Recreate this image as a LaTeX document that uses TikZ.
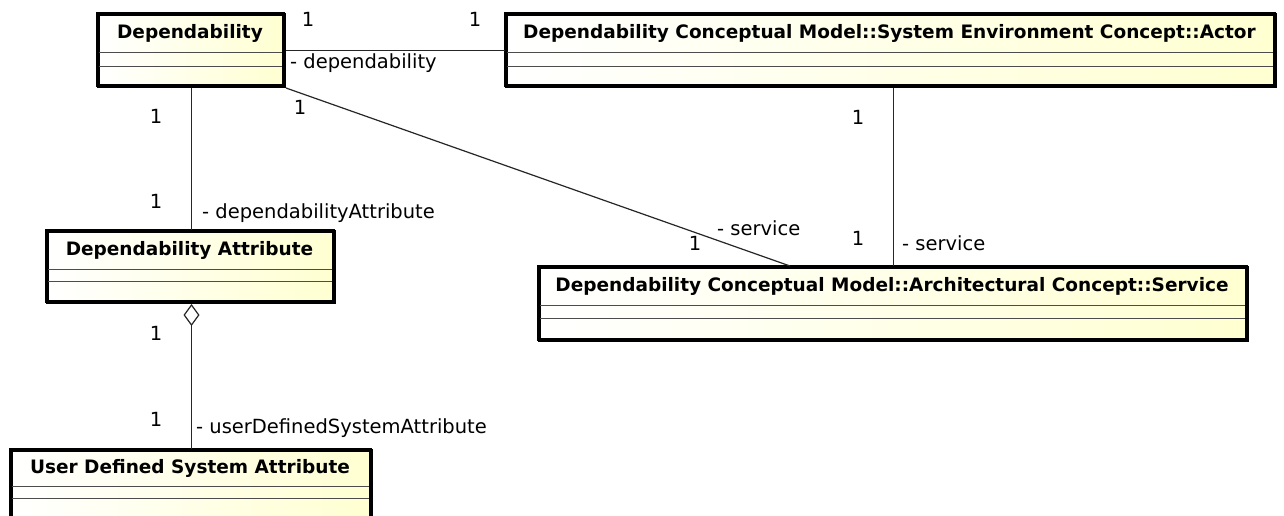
\documentclass[tikz,border=0pt]{standalone}
\usepackage{fontspec}
\setmainfont{DejaVu Sans}
\usetikzlibrary{arrows.meta,calc}
\tikzset{
  classbox/.style={draw=black, line width=3pt, inner sep=0pt, left color=white, right color=yellow!18, anchor=north west},
  divider/.style={draw=black!70, line width=1pt},
  classtitle/.style={font=\fontsize{18.5}{20}\selectfont\bfseries, inner sep=0pt},
  mult/.style={font=\fontsize{19.5}{21}\selectfont, inner sep=0pt},
  role/.style={font=\fontsize{19.5}{21}\selectfont, inner sep=0pt, anchor=west},
  assoc/.style={draw=black!85, line width=1.2pt}
}
\newcommand{\umlclass}[8]{%
  \node[classbox, minimum width={#4-#2}, minimum height={#5-#3}] (#1) at (#2,#3) {};
  \draw[divider] (#2,#6) -- (#4,#6);
  \draw[divider] (#2,#7) -- (#4,#7);
  \draw[line width=3pt] (#2,#3) rectangle (#4,#5);
  \node[classtitle] (#1-t) at ({(#2+#4)/2},{(#3+#6)/2+1}) {#8};
}
\begin{document}
\begin{tikzpicture}[x=1pt,y=-1pt]
\clip (0,0) rectangle (1284,515);
\fill[white] (0,0) rectangle (1284,515);
\umlclass{dep}{97}{13}{283}{85}{52}{66}{Dependability}
\umlclass{actor}{505}{13}{1274}{85}{52}{66}{Dependability Conceptual Model::System Environment Concept::Actor}
\umlclass{attr}{46}{230}{333}{301}{269}{281}{Dependability Attribute}
\umlclass{svc}{538}{266}{1246}{339}{305}{318}{Dependability Conceptual Model::Architectural Concept::Service}
\umlclass{user}{10}{449}{370}{530}{486}{498}{User Defined System Attribute}
\coordinate (svcin) at ($(svc.north west)+(252,0)$);
% connectors
\draw[assoc] (dep.east) -- (actor.west);
\draw[assoc] (dep.south) -- (dep.south |- attr.north);
\draw[assoc] (dep.south east) -- (svcin);
\draw[assoc] (actor.south -| svc.north) -- (svc.north);
\draw[assoc, {Diamond[open, length=22pt, width=16pt, line width=1.2pt]}-] (attr.south -| dep.south) -- (user.north -| dep.south);
% multiplicities
\node[mult] (m1) at (308,19) {1};
\node[mult] (m2) at (475,19) {1};
\node[mult] (m3) at (156,116) {1};
\node[mult] (m4) at (156,201) {1};
\node[mult] (m5) at (300,107) {1};
\node[mult] (m6) at (695,243) {1};
\node[mult] (m7) at (858,117) {1};
\node[mult] (m8) at (858,238) {1};
\node[mult] (m9) at (156,333) {1};
\node[mult] (m10) at (156,419) {1};
% roles
\node[role] (r1) at (290,63) {- dependability};
\node[role] (r2) at (202,213) {- dependabilityAttribute};
\node[role] (r3) at (717,228) {- service};
\node[role] (r4) at (902,243) {- service};
\node[role] (r5) at (196,428) {- userDefinedSystemAttribute};
\end{tikzpicture}
\end{document}
